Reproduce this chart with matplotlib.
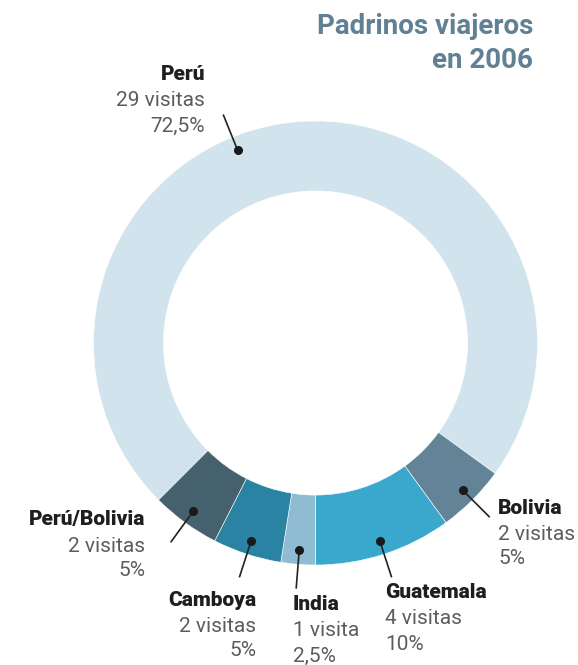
import numpy as np
import matplotlib.pyplot as plt

paises = ['Perú', 'Bolivia', 'Guatemala', 'India', 'Camboya', 'Perú/Bolivia']
visitas = [29, 2, 4, 1, 2, 2]
textos = ['29 visitas', '2 visitas', '4 visitas', '1 visita', '2 visitas', '2 visitas']
porcentajes = ['72,5%', '5%', '10%', '2,5%', '5%', '5%']
colores = ['#d1e3ed', '#628496', '#3aa7cd', '#8fbcd2', '#2a83a2', '#46616e']

W, H = 578, 665
cx, cy, R = 315.5, 343, 222.0

def px(x, y):
    return ((x - cx) / R, (cy - y) / R)

fig = plt.figure(figsize=(W / 100, H / 100), dpi=100)
ax = fig.add_axes([0, 0, 1, 1])

start = 225
wedges, _ = ax.pie(visitas, colors=colores, startangle=start, counterclock=False,
                   radius=1.0, wedgeprops=dict(width=0.315, edgecolor='white', linewidth=0.4))

# pie() fija sus propios límites, así que se ponen después
ax.set_xlim(px(0, 0)[0], px(W, 0)[0])
ax.set_ylim(px(0, H)[1], px(0, 0)[1])
ax.set_aspect('equal')
ax.axis('off')

# angulos medios de cada porcion
total = sum(visitas)
acum = np.cumsum([0] + visitas)
medios = [start - 360 * (acum[i] + acum[i + 1]) / 2 / total for i in range(len(visitas))]
medios[0] = 112  # el punto de Perú está arriba a la izquierda

for ang in medios:
    a = np.radians(ang)
    x0, y0 = 0.937 * np.cos(a), 0.937 * np.sin(a)
    x1, y1 = 1.11 * np.cos(a), 1.11 * np.sin(a)
    ax.plot([x0, x1], [y0, y1], color='#222222', lw=1.2, solid_capstyle='butt')
    ax.plot(x0, y0, 'o', color='#1a1a1a', ms=5.5)

# posiciones de etiquetas (x, y de la primera línea, alineación)
pos = [(205, 75, 'right'), (498, 508, 'left'), (385, 593, 'left'),
       (293, 605, 'left'), (256, 600, 'right'), (145, 520, 'right')]
fam = ['Roboto', 'DejaVu Sans']
for i, (x, y, ha) in enumerate(pos):
    ax.text(*px(x, y), paises[i], ha=ha, va='center', fontsize=15,
            fontweight='heavy', color='#1e1e1e', family=fam)
    ax.text(*px(x, y + 26), textos[i], ha=ha, va='center', fontsize=15,
            fontweight='normal', color='#5c5c5c', family=fam)
    ax.text(*px(x, y + 51), porcentajes[i], ha=ha, va='center', fontsize=15,
            fontweight='normal', color='#5c5c5c', family=fam)

ax.text(*px(533, 27), 'Padrinos viajeros', ha='right', va='center', fontsize=20,
        fontweight='bold', color='#5f8193', family=fam)
ax.text(*px(533, 60), 'en 2006', ha='right', va='center', fontsize=20,
        fontweight='bold', color='#5f8193', family=fam)

fig.savefig('out.png', dpi=100)
